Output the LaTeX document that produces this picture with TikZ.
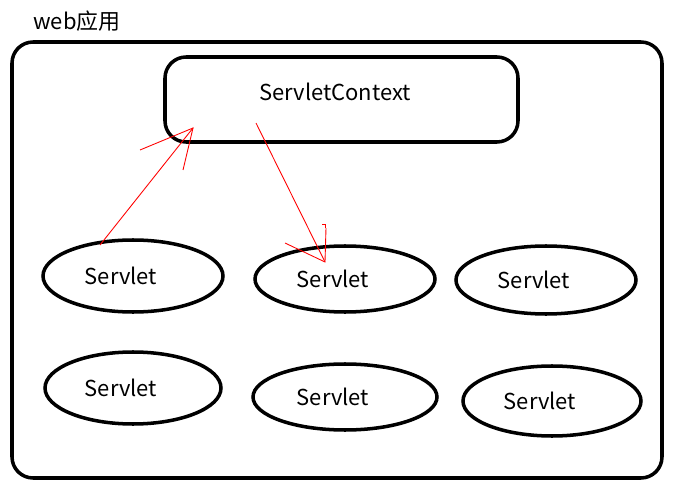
\documentclass[tikz,border=0pt]{standalone}
\usepackage{fontspec}
\setmainfont{Noto Sans CJK SC}
\begin{document}
\begin{tikzpicture}[
    x=0.02cm, y=-0.02cm,
    frame/.style={draw, line width=2pt, rounded corners=12pt},
    label/.style={font=\fontsize{12.5}{15}\selectfont},
    redline/.style={draw=red, line width=0.5pt}
  ]
  \useasboundingbox (0,0) rectangle (680,500);

  \draw[frame] (12,42) rectangle (662,478);
  \node[label] (title) at (77,21) {web应用};

  \draw[frame] (165,57) rectangle (518,142);
  \node[label] (ctx) at (335,92) {ServletContext};

  \foreach \name/\cx/\cy/\rx/\ry in {s1/133/276/90/36, s2/345/279/90/33, s3/546/280/90/34,
                                     s4/133/388/88/36, s5/345/397/92/33, s6/552/401/89/35}{
    \draw[line width=2pt] (\cx,\cy) ellipse [x radius=\rx*0.02cm, y radius=\ry*0.02cm];
    \node[label] (\name) at (\cx-12,\cy) {Servlet};
  }

  % red hand-drawn arrows
  \coordinate (a1) at (100,245);
  \coordinate (a1tip) at (193,128);
  \draw[redline] (a1) -- (a1tip);
  \draw[redline] (140,150) -- (a1tip) -- (183,170);

  \coordinate (a2) at (256,123);
  \coordinate (a2tip) at (325,262);
  \draw[redline] (a2) -- (a2tip);
  \draw[redline] (285,243) -- (a2tip) -- (326,228);
  \draw[redline] (322,224) -- (325,224) -- (325,228);
\end{tikzpicture}
\end{document}
